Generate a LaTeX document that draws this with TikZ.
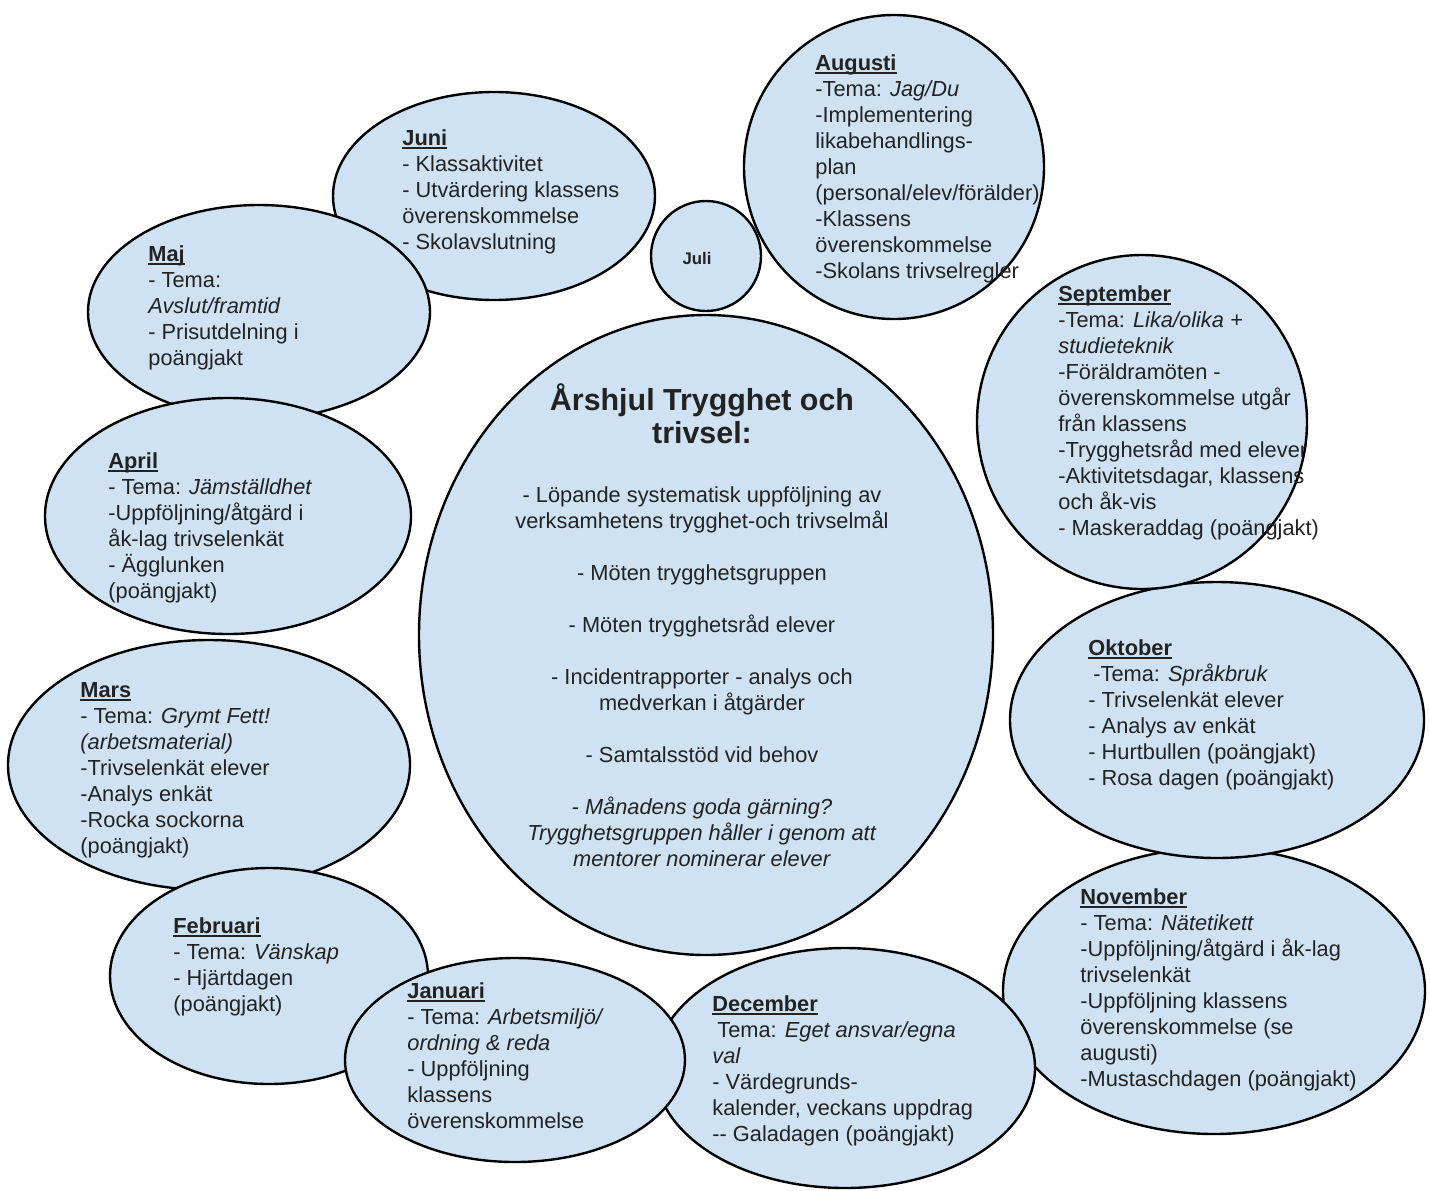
\documentclass[tikz,border=0pt]{standalone}
\usepackage{fontspec}
\setmainfont{Liberation Sans}
\usetikzlibrary{shapes.geometric}
\definecolor{bubblefill}{HTML}{CFE2F3}
\definecolor{inkgray}{HTML}{222222}
\newcommand{\mhead}[1]{\setbox0\hbox{\textbf{#1}}\rlap{\rule[-1.7pt]{\wd0}{0.8pt}}\box0}

\begin{document}
\begin{tikzpicture}[x=0.5pt,y=-0.5pt,
    bubble/.style 2 args={ellipse,draw=black,line width=1.2pt,fill=bubblefill,inner sep=0pt,minimum width=#1pt,minimum height=#2pt},
    month/.style={anchor=north west,align=left,inner sep=0pt,text=inkgray,font=\fontsize{10.9}{13}\selectfont},
    core/.style={anchor=north,align=center,inner sep=0pt,text=inkgray}]

\useasboundingbox (0,0) rectangle (1430,1190);

\node[bubble={161}{104}] (jun) at (494,196) {};
\node[bubble={150}{152}] (aug) at (894,167) {};
\node[bubble={55}{55}] (jul) at (706,256) {};
\node[bubble={171}{107}] (maj) at (259,312) {};
\node[bubble={201}{125}] (mar) at (209,765) {};
\node[bubble={183}{118}] (apr) at (228,516) {};
\node[bubble={159}{108}] (feb) at (269,976) {};
\node[bubble={211}{143}] (nov) at (1214,991) {};
\node[bubble={207}{138}] (okt) at (1217,720) {};
\node[bubble={165}{167}] (sep) at (1142,422) {};
\node[bubble={190}{120}] (dec) at (845,1068) {};
\node[bubble={170}{102}] (jan) at (515,1060) {};
\node[bubble={287}{320}] (hub) at (706,635) {};

\node[month] (juntxt) at (402,129) {\mhead{Juni}\\- Klassaktivitet\\- Utvärdering klassens\\överenskommelse\\- Skolavslutning};
\node[font=\bfseries\fontsize{8.4}{10}\selectfont,text=inkgray] (jultxt) at (697,258) {Juli};
\node[month] (augtxt) at (815,54) {\mhead{Augusti}\\-Tema: \textit{Jag/Du}\\-Implementering\\likabehandlings-\\plan\\(personal/elev/förälder)\\-Klassens\\överenskommelse\\-Skolans trivselregler};
\node[month] (majtxt) at (148,245) {\mhead{Maj}\\- Tema:\\\textit{Avslut/framtid}\\- Prisutdelning i\\poängjakt};
\node[month] (septxt) at (1058,285) {\mhead{September}\\-Tema: \textit{Lika/olika +}\\\textit{studieteknik}\\-Föräldramöten -\\överenskommelse utgår\\från klassens\\-Trygghetsråd med elever\\-Aktivitetsdagar, klassens\\och åk-vis\\- Maskeraddag (poängjakt)};
\node[month] (aprtxt) at (108,452) {\mhead{April}\\- Tema: \textit{Jämställdhet}\\-Uppföljning/åtgärd i\\åk-lag trivselenkät\\- Ägglunken\\(poängjakt)};
\node[month] (okttxt) at (1088,639) {\mhead{Oktober}\\\hspace{2.5pt}-Tema: \textit{Språkbruk}\\- Trivselenkät elever\\- Analys av enkät\\- Hurtbullen (poängjakt)\\- Rosa dagen (poängjakt)};
\node[month] (martxt) at (80,682) {\mhead{Mars}\\- Tema: \textit{Grymt Fett!}\\\textit{(arbetsmaterial)}\\-Trivselenkät elever\\-Analys enkät\\-Rocka sockorna\\(poängjakt)};
\node[month] (novtxt) at (1080,888) {\mhead{November}\\- Tema: \textit{Nätetikett}\\-Uppföljning/åtgärd i åk-lag\\trivselenkät\\-Uppföljning klassens\\överenskommelse (se\\augusti)\\-Mustaschdagen (poängjakt)};
\node[month] (febtxt) at (173,917) {\mhead{Februari}\\- Tema: \textit{Vänskap}\\- Hjärtdagen\\(poängjakt)};
\node[month] (jantxt) at (407,982) {\mhead{Januari}\\- Tema: \textit{Arbetsmiljö/}\\\textit{ordning \& reda}\\- Uppföljning\\klassens\\överenskommelse};
\node[month] (dectxt) at (712,995) {\mhead{December}\\\hspace{2.5pt}Tema: \textit{Eget ansvar/egna}\\\textit{val}\\- Värdegrunds-\\kalender, veckans uppdrag\\-{}- Galadagen (poängjakt)};

\node[core,font=\bfseries\fontsize{15.2}{16.5}\selectfont] (title) at (702,383) {Årshjul Trygghet och\\trivsel:};
\node[core,font=\fontsize{10.9}{13}\selectfont] (goals) at (702,486) {- Löpande systematisk uppföljning av\\verksamhetens trygghet-och trivselmål\\[13pt]- Möten trygghetsgruppen\\[13pt]- Möten trygghetsråd elever\\[13pt]- Incidentrapporter - analys och\\medverkan i åtgärder\\[13pt]- Samtalsstöd vid behov\\[13pt]\textit{- Månadens goda gärning?}\\\textit{Trygghetsgruppen håller i genom att}\\\textit{mentorer nominerar elever}};

\end{tikzpicture}
\end{document}
